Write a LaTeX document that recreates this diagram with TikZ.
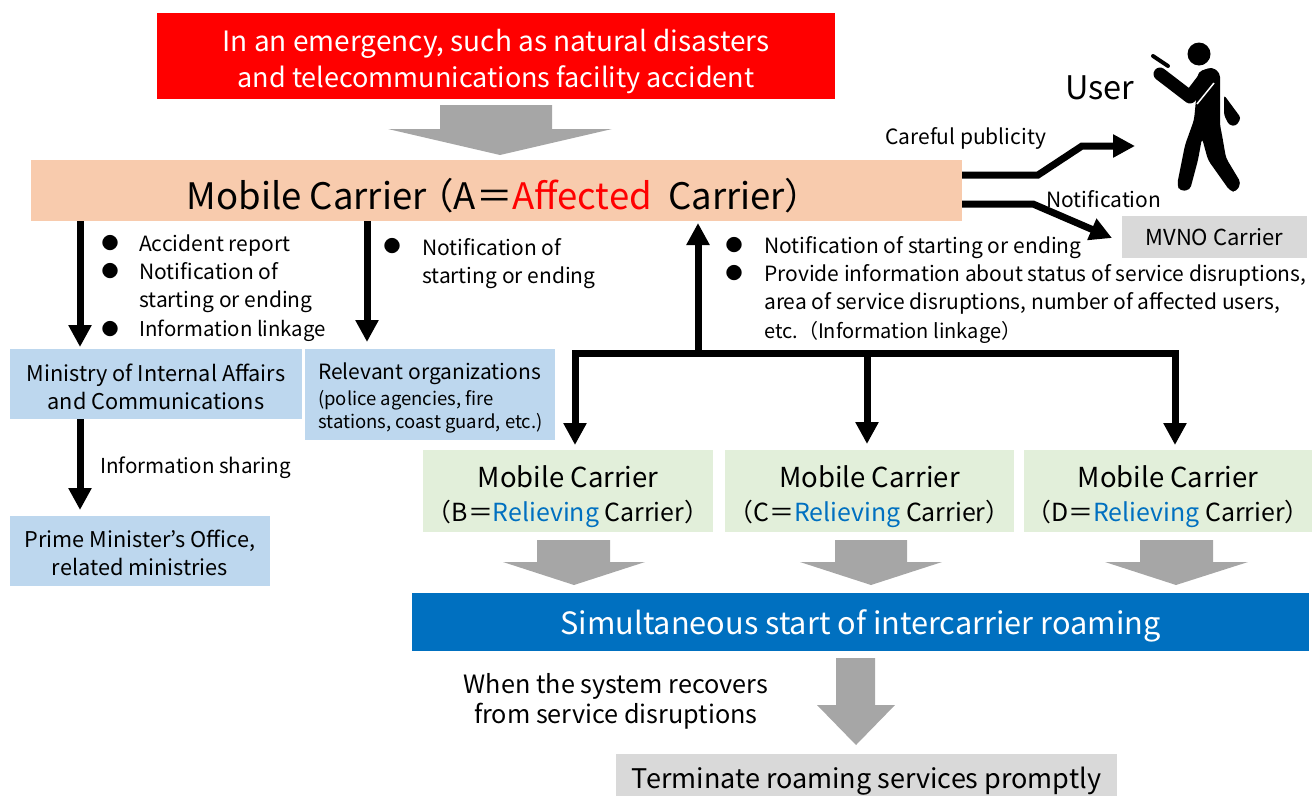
\documentclass[tikz,border=0pt]{standalone}
\usepackage{fontspec}
\setmainfont{Noto Sans CJK JP}
\usepackage{xcolor}
\usetikzlibrary{arrows.meta}
\definecolor{peach}{HTML}{F8CBAD}
\definecolor{paleblue}{HTML}{BDD7EE}
\definecolor{palegreen}{HTML}{E2EFDA}
\definecolor{barblue}{HTML}{0070C0}
\definecolor{palegrey}{HTML}{D9D9D9}
\definecolor{midgrey}{HTML}{A6A6A6}
\tikzset{
  box/.style={inner sep=0pt,align=center,text depth=0pt,font=\fontsize{21.7}{28}\selectfont},
  txt/.style={inner sep=0pt,anchor=west,text height=15pt,text depth=0pt,font=\fontsize{21}{24}\selectfont},
  dot/.style={inner sep=0pt,font=\fontsize{17}{20}\selectfont},
  thickarrow/.style={line width=7pt,-{Triangle[length=22pt,width=22pt]}},
  greyarrow/.style={fill=midgrey,draw=none},
}
\begin{document}
\begin{tikzpicture}[x=1pt,y=-1pt]
    \useasboundingbox (0,0) rectangle (1312,796);
    % boxes
    \node[box,fill=red,text=white,minimum width=678pt,minimum height=86pt,text height=62pt,font=\fontsize{28}{36}\selectfont] (emergency) at (496,56) {In an emergency, such as natural disasters\\{\fontsize{27}{36}\selectfont and telecommunications facility accident}};
    \node[box,fill=peach,minimum width=931pt,minimum height=61pt,font=\fontsize{36.5}{40}\selectfont] (carrierA) at (496.5,190.5) {\raisebox{-6pt}{\kern15pt Mobile Carrier\kern-9pt（A＝\textcolor{red}{Affected}\kern8pt\ Carrier）}};
    \node[box,fill=palegrey,minimum width=185pt,minimum height=42pt,font=\fontsize{22}{24}\selectfont] (mvno) at (1214.5,237) {MVNO Carrier};
    \node[box,fill=paleblue,minimum width=292pt,minimum height=70pt,text height=50pt] (ministry) at (156,384) {Ministry of Internal Affairs\\and Communications};
    \node[box,fill=paleblue,minimum width=250pt,minimum height=91pt] (relevant) at (430,394.5) {};
    \node[txt] (relevant1) at (318,372) {Relevant organizations};
    \node[txt,text height=13pt,font=\fontsize{18.5}{20}\selectfont] (relevant2) at (318,399) {(police agencies, fire};
    \node[txt,text height=13pt,font=\fontsize{18.5}{20}\selectfont] (relevant3) at (318,422) {stations, coast guard, etc.)};
    \node[box,fill=paleblue,minimum width=260pt,minimum height=70pt,text height=48pt] (prime) at (140,551) {Prime Minister's Office,\\related ministries};
    \node[box,fill=palegreen,minimum width=290pt,minimum height=82pt,text height=60pt,font=\fontsize{27.5}{34}\selectfont] (carrierB) at (568,491) {Mobile Carrier\\{\fontsize{24.9}{30}\selectfont（B＝\textcolor{barblue}{Relieving} Carrier）}};
    \node[box,fill=palegreen,minimum width=289pt,minimum height=82pt,text height=60pt,font=\fontsize{27.5}{34}\selectfont] (carrierC) at (869.5,491) {Mobile Carrier\\{\fontsize{24.9}{30}\selectfont（C＝\textcolor{barblue}{Relieving} Carrier）}};
    \node[box,fill=palegreen,minimum width=288pt,minimum height=82pt,text height=60pt,font=\fontsize{27.5}{34}\selectfont] (carrierD) at (1168,491) {Mobile Carrier\\{\fontsize{24.9}{30}\selectfont（D＝\textcolor{barblue}{Relieving} Carrier）}};
    \node[box,fill=barblue,text=white,minimum width=897pt,minimum height=58pt,font=\fontsize{30.7}{34}\selectfont] (roaming) at (860.5,622) {Simultaneous start of intercarrier roaming};
    \node[box,fill=palegrey,minimum width=501pt,minimum height=42pt,font=\fontsize{27}{32}\selectfont] (terminate) at (866.5,775) {\raisebox{-6pt}{Terminate roaming services promptly}};
    % labels
    \node[txt,anchor=center,text height=23pt,font=\fontsize{32.5}{36}\selectfont] (user) at (1100,88) {User};
    \node[txt] (publicity) at (885,137) {Careful publicity};
    \node[txt] (notif) at (1046,200) {Notification};
    \node[dot] (d1) at (110,243) {●};
    \node[dot] (d2) at (110,271) {●};
    \node[dot] (d3) at (110,329) {●};
    \node[txt] (t1) at (139,244) {Accident report};
    \node[txt] (t2) at (139,272) {Notification of};
    \node[txt] (t3) at (139,300) {starting or ending};
    \node[txt,font=\fontsize{20.4}{24}\selectfont] (t4) at (139,329) {Information linkage};
    \node[dot] (d4) at (392,246) {●};
    \node[txt] (t5) at (422,248) {Notification of};
    \node[txt] (t6) at (422,276) {starting or ending};
    \node[dot] (d5) at (734,245) {●};
    \node[dot] (d6) at (734,273) {●};
    \node[txt] (t7) at (764,246) {Notification of starting or ending};
    \node[txt] (t8) at (764,274) {Provide information about status of service disruptions,};
    \node[txt] (t9) at (764,302) {area of service disruptions, number of affected users,};
    \node[txt,font=\fontsize{20}{24}\selectfont] (t10) at (764,331) {etc.（Information linkage）};
    \node[txt,font=\fontsize{20.6}{24}\selectfont] (sharing) at (100,466) {Information sharing};
    \node[box,font=\fontsize{25.2}{30}\selectfont] (recovers) at (616,698) {When the system recovers\\from service disruptions};
    % arrow ends
    \coordinate (minin) at (80,347);
    \coordinate (relin) at (367,342);
    \coordinate (primein) at (80,510);
    \coordinate (hub) at (698,353);
    \coordinate (carrin) at (698,223);
    \coordinate (binb) at (575,445);
    \coordinate (cinb) at (867,444);
    \coordinate (dinb) at (1175,445);
    \coordinate (pubs) at (962,175);
    \coordinate (pube) at (1135,146);
    \coordinate (nots) at (962,204);
    \coordinate (note) at (1112,238);
    % black arrows
    \draw[thickarrow] (carrierA.south -| minin) -- (minin);
    \draw[thickarrow] (carrierA.south -| relin) -- (relin);
    \draw[thickarrow] (ministry.south -| primein) -- (primein);
    \draw[thickarrow] (hub) -- (carrin);
    \draw[thickarrow] (hub) -- (hub -| binb) -- (binb);
    \draw[thickarrow] (hub) -- (cinb |- hub) -- (cinb);
    \draw[thickarrow] (hub) -- (hub -| dinb) -- (dinb);
    \draw[thickarrow] (pubs) -- (1038,175) -- (1082,146) -- (pube);
    \draw[thickarrow] (nots) -- (1033,204) -- (note);
    % grey arrows
    \fill[greyarrow] (440,105) -- (552,105) -- (552,129) -- (612,129) -- (500,155) -- (388,129) -- (440,129) -- cycle;
    \fill[greyarrow] (537,540) -- (610,540) -- (610,562) -- (645,562) -- (574,585) -- (503,562) -- (537,562) -- cycle;
    \fill[greyarrow] (835,540) -- (907,540) -- (907,562) -- (942,562) -- (871,585) -- (800,562) -- (835,562) -- cycle;
    \fill[greyarrow] (1140,540) -- (1213,540) -- (1213,562) -- (1248,562) -- (1176,585) -- (1105,562) -- (1140,562) -- cycle;
    \fill[greyarrow] (836,658) -- (875,658) -- (875,705) -- (895,705) -- (856,745) -- (817,705) -- (836,705) -- cycle;
    % person
    \fill (1199,54) circle (11.5);
    \draw[line width=4pt,line cap=round] (1153,56) -- (1168,66);
    \fill[rounded corners=4pt] (1198,72) -- (1212,67) -- (1220,73) -- (1220,125) -- (1222,135) -- (1226,158) -- (1241,183) -- (1236,192) -- (1230,191) -- (1208,160) -- (1202,138) -- (1198,160) -- (1190,190) -- (1180,191) -- (1177,185) -- (1185,145) -- (1194,120) -- (1196,100) -- cycle;
    \draw[white,line width=1.5pt] (1214,83) -- (1197,104);
    \draw[line width=13pt,line cap=round,line join=round] (1160,74) -- (1190,97) -- (1206,76);
    \fill[rounded corners=3pt] (1224,95) -- (1241,118) -- (1236,126) -- (1229,125) -- (1224,115) -- cycle;
\end{tikzpicture}
\end{document}
